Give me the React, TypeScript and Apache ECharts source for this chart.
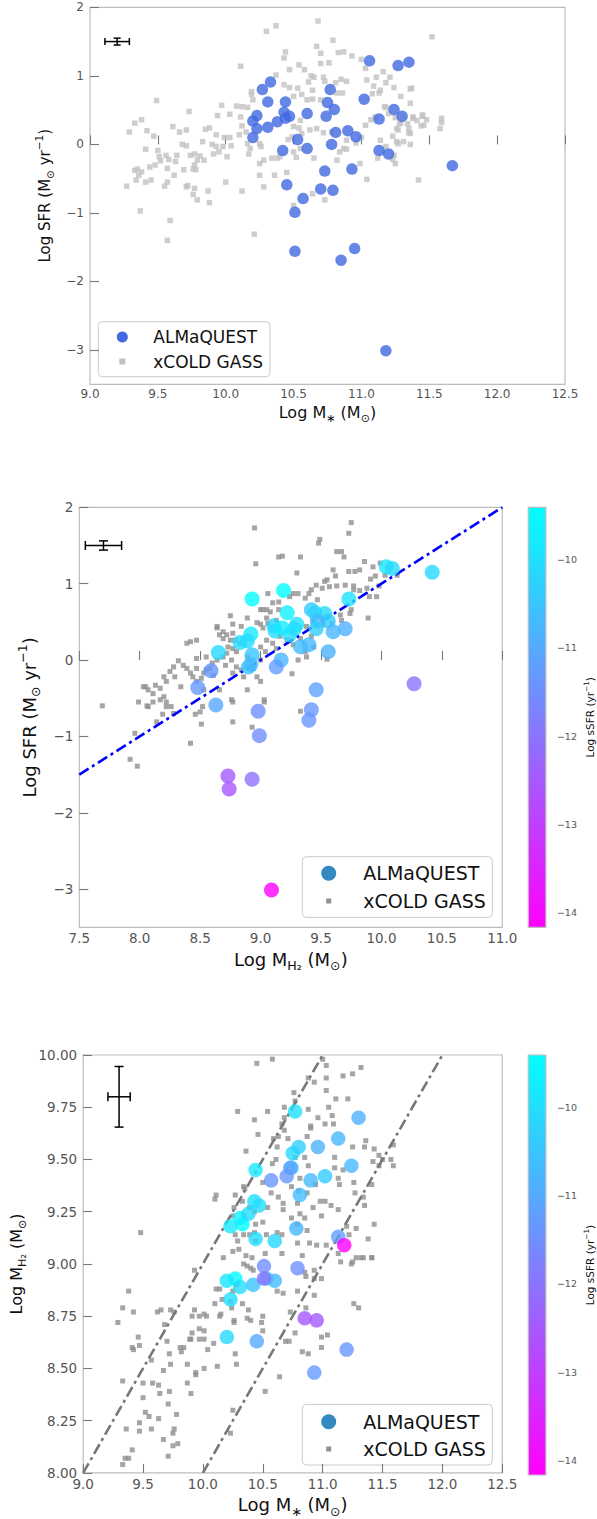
import React, { useEffect, useRef } from 'react';
import * as echarts from 'echarts';

const FONT = "'DejaVu Sans', Verdana, sans-serif";

// ALMaQUEST galaxies: stellar mass, SFR, molecular gas mass (log units)
const almaMstar = [11.06, 11.27, 11.35, 10.33, 10.27, 10.77, 10.31, 10.44, 10.75, 10.80, 11.02, 11.24, 11.30, 11.13, 10.60, 10.74, 10.43, 10.47, 10.44, 10.38, 10.23, 10.20, 10.23, 10.31, 10.20, 10.81, 10.90, 10.96, 10.53, 10.78, 10.42, 10.60, 11.13, 11.20, 11.67, 10.73, 10.93, 10.45, 10.70, 10.79, 10.57, 10.51, 10.51, 10.95, 10.85, 11.18];
const almaSFR = [1.22, 1.15, 1.20, 0.91, 0.80, 0.80, 0.62, 0.62, 0.61, 0.51, 0.66, 0.51, 0.41, 0.37, 0.45, 0.41, 0.47, 0.41, 0.38, 0.33, 0.42, 0.34, 0.23, 0.25, 0.10, 0.175, 0.20, 0.11, 0.07, 0.00, -0.09, -0.06, -0.09, -0.14, -0.31, -0.39, -0.36, -0.59, -0.65, -0.67, -0.79, -0.99, -1.56, -1.52, -1.69, -3.01];
const almaMH2 = [10.04, 10.42, 10.09, 9.19, 8.93, 9.73, 9.22, 9.45, 9.53, 9.56, 9.42, 9.47, 9.70, 9.60, 9.11, 9.46, 9.30, 9.28, 9.12, 9.24, 9.18, 8.92, 8.83, 8.89, 8.65, 9.33, 9.40, 9.56, 8.93, 9.17, 8.90, 8.92, 9.13, 8.59, 10.27, 9.46, 8.48, 8.63, 9.42, 8.98, 9.40, 8.99, 8.93, 8.73, 8.74, 9.09];

// xCOLD GASS: [log M*, log SFR]
const xcgMstarSFR = [
  [10.30,1.65],[10.37,1.73],[10.68,1.80],[10.79,1.52],[11.52,1.57],[10.11,1.14],[10.44,1.35],[10.43,1.26],[10.67,1.43],[10.70,1.33],[10.83,1.34],[10.87,1.35],[10.93,1.29],[11.00,1.24],[10.54,1.16],[10.47,1.09],[10.70,1.18],[10.76,1.19],[10.58,1.09],[10.37,1.01],[10.43,0.87],[10.47,0.83],[10.53,0.82],[10.63,1.00],[10.65,0.98],[10.61,0.91],[10.72,0.98],[10.73,0.92],[10.81,0.90],[10.85,0.95],[10.89,0.92],[11.03,1.11],[11.04,0.94],[11.09,0.85],[11.11,0.98],[11.16,1.06],[11.21,0.98],[11.24,0.83],[11.36,0.81],[11.29,0.70],[11.36,0.60],[11.08,0.74],[11.13,0.75],[10.50,0.70],[10.64,0.79],[10.64,0.66],[10.70,0.65],[10.60,0.65],[10.56,0.73],[10.82,0.75],[10.86,0.75],[10.19,0.73],[10.19,0.77],[10.20,0.65],[10.12,0.55],[10.16,0.54],[10.08,0.56],[9.97,0.57],[9.94,0.42],[10.03,0.44],[10.11,0.40],[10.12,0.27],[10.15,0.18],[10.10,0.14],[9.99,0.10],[10.03,0.10],[9.93,0.14],[9.88,0.24],[9.85,0.22],[9.83,0.04],[9.90,0.00],[9.93,-0.03],[9.95,-0.11],[9.91,-0.14],[10.01,-0.18],[9.98,-0.03],[10.04,-0.02],[10.16,0.01],[10.18,-0.06],[10.17,-0.14],[10.25,0.01],[10.26,-0.03],[10.25,-0.28],[10.28,-0.23],[10.34,-0.20],[10.38,-0.20],[10.46,0.07],[10.49,0.11],[10.50,0.26],[10.54,0.24],[10.55,0.35],[10.56,0.16],[10.62,0.21],[10.67,0.23],[10.72,0.17],[10.78,0.18],[10.89,0.06],[10.96,0.02],[11.00,0.10],[11.03,0.28],[11.07,0.36],[11.10,0.40],[11.17,0.55],[11.20,0.45],[11.25,0.39],[11.26,0.23],[11.28,0.30],[11.34,0.30],[11.36,0.16],[11.36,0.00],[11.26,0.04],[11.14,0.06],[11.18,-0.03],[11.24,-0.16],[11.25,-0.28],[11.12,-0.20],[10.99,-0.28],[10.84,-0.11],[10.89,-0.07],[10.50,-0.11],[10.55,-0.06],[10.45,-0.41],[10.52,-0.19],[10.65,-0.20],[10.82,-0.23],[10.87,-0.06],[11.04,-0.51],[11.42,-0.52],[11.38,0.40],[11.45,0.41],[11.48,0.36],[11.46,0.28],[9.73,0.48],[9.49,0.64],[9.38,0.36],[9.33,0.31],[9.29,0.18],[9.42,0.20],[9.47,0.12],[9.41,-0.07],[9.50,-0.09],[9.51,-0.18],[9.52,-0.24],[9.56,-0.16],[9.58,-0.22],[9.57,-0.35],[9.48,-0.30],[9.44,-0.33],[9.45,-0.52],[9.41,-0.55],[9.38,-0.40],[9.35,-0.36],[9.33,-0.38],[9.36,-0.45],[9.34,-0.52],[9.27,-0.61],[9.64,-0.16],[9.63,-0.25],[9.62,-0.45],[9.68,0.00],[9.71,-0.02],[9.69,-0.37],[9.74,-0.16],[9.77,-0.14],[9.79,-0.23],[9.77,-0.30],[9.76,-0.36],[9.81,-0.17],[9.84,-0.23],[9.61,0.26],[9.66,0.18],[9.71,0.21],[9.78,-0.37],[9.72,-0.60],[9.77,-0.64],[9.55,-0.61],[9.57,-0.55],[9.87,-0.68],[10.00,-0.55],[10.12,-0.68],[10.28,-0.62],[10.25,-0.45],[10.36,-0.45],[10.40,-0.18],
  [9.71,-0.62],[9.76,-0.73],[9.79,-0.81],[9.88,-0.85],[9.37,-0.97],[9.59,-1.11],[9.57,-1.40],[10.21,-1.31],[10.64,-0.72],[10.73,-0.81],[10.50,-0.89],
  [11.18,0.90],[11.37,0.82],[11.18,0.54],[11.29,0.31],[11.27,0.21],[11.35,0.23],[11.35,0.17],[11.38,0.38],[11.41,0.35],[11.45,0.43],[11.44,0.27],[11.59,0.38],[11.59,0.32],[11.58,0.23],[11.23,0.12],[11.27,0.01],[11.31,0.04],[11.23,-0.22],[11.14,0.79]
];

// xCOLD GASS: [log MH2, log SFR]
const xcgMH2SFR = [
  [8.95,1.73],[8.96,1.26],[9.75,1.80],[9.73,1.66],[9.48,1.53],[9.49,1.58],[9.15,1.35],[9.18,1.36],[9.33,1.35],[9.30,1.14],[9.63,1.42],[9.67,1.42],[9.69,1.35],[9.86,1.29],[9.82,1.18],[9.73,1.16],[9.78,1.16],[9.60,1.18],[9.62,1.10],[9.93,1.22],[9.99,1.27],[10.03,1.11],[10.13,1.11],[9.91,1.06],[9.95,1.10],[9.98,0.97],[9.53,1.03],[9.55,1.05],[9.46,0.98],[9.51,0.94],[9.57,0.96],[9.63,0.97],[9.70,0.98],[9.77,0.97],[9.77,0.92],[9.82,0.91],[9.90,0.83],[9.96,0.83],[9.88,0.94],[9.06,0.87],[9.10,0.75],[9.15,0.76],[9.24,0.83],[9.27,0.87],[9.31,0.87],[9.37,0.81],[9.42,0.92],[9.47,0.79],[9.40,0.87],[9.00,0.66],[9.02,0.66],[9.05,0.66],[9.15,0.66],[9.08,0.63],[9.13,0.52],[9.05,0.55],[8.97,0.49],[9.00,0.47],[9.02,0.42],[9.06,0.48],[8.89,0.55],[8.84,0.44],[8.77,0.47],[8.75,0.58],[8.69,0.37],[8.72,0.33],[8.77,0.35],[8.64,0.42],[8.66,0.33],[8.69,0.28],[8.75,0.26],[8.79,0.26],[8.73,0.17],[8.77,0.15],[8.80,0.11],[8.72,0.09],[8.69,0.04],[8.76,0.00],[8.71,-0.07],[8.80,-0.09],[8.84,-0.13],[8.77,-0.17],[8.94,-0.11],[9.00,0.00],[9.04,0.11],[9.00,0.17],[9.05,0.26],[9.10,0.22],[9.13,0.15],[9.16,0.31],[9.22,0.26],[9.27,0.20],[9.33,0.28],[9.38,0.44],[9.44,0.52],[9.52,0.46],[9.59,0.48],[9.66,0.59],[9.67,0.52],[9.74,0.61],[9.75,0.66],[9.89,0.55],[9.37,0.11],[9.38,0.04],[9.31,0.00],[9.26,-0.18],[9.42,0.31],[9.55,0.01],[9.44,0.17],[8.83,0.22],[8.89,0.04],[8.89,-0.39],[9.00,-0.28],[9.03,-0.52],[8.86,-0.22],[8.97,-0.22],[8.64,0.00],[8.60,-0.04],[8.58,-0.11],[8.55,-0.13],[8.61,-0.20],[8.53,-0.17],[8.51,-0.24],[8.47,-0.11],[8.44,-0.22],[8.42,-0.17],[8.47,-0.28],[8.39,-0.11],[8.36,-0.07],[8.32,-0.01],[8.28,-0.09],[8.29,-0.22],[8.25,-0.15],[8.22,-0.28],[8.20,-0.22],[8.17,-0.37],[8.13,-0.33],[8.11,-0.44],[8.07,-0.39],[8.03,-0.35],[8.05,-0.35],[7.99,-0.55],[8.07,-0.61],[8.17,-0.52],[8.20,-0.48],[8.22,-0.61],[8.28,-0.70],[8.39,0.22],[8.42,0.24],[8.47,0.02],[8.55,0.04],[8.47,0.26],[8.64,0.44],[7.69,-0.60],[8.34,-0.35],[8.53,-0.39],[8.66,-0.39],[8.76,-0.52],
  [8.06,-0.60],[8.11,-0.55],[8.22,-0.55],[8.26,-0.61],[8.19,-0.71],[8.14,-0.81],[8.46,-0.71],[8.50,-0.68],[8.52,-0.61],[8.51,-0.84],[7.96,-0.96],[7.92,-1.30],[7.98,-1.39],[8.42,-1.09],[8.77,-0.55],[8.77,-0.81],[8.93,-0.88],[9.03,-0.55],[9.33,-0.67]
];

// xCOLD GASS: [log M*, log MH2]
const xcgMstarMH2 = [
  [10.45,9.96],[10.58,9.98],[11.00,9.98],[11.03,9.95],[10.93,9.87],[10.88,9.89],[11.03,9.89],[11.03,9.83],[11.17,9.90],[11.25,9.91],[11.32,9.94],[11.21,9.79],[11.11,9.79],[10.76,9.82],[10.77,9.78],[10.68,9.75],[10.88,9.74],[11.05,9.75],[10.96,9.70],[11.02,9.67],[11.09,9.67],[10.90,9.66],[11.08,9.71],[10.54,9.73],[10.29,9.73],[10.43,9.69],[10.68,9.70],[10.66,9.67],[10.68,9.64],[10.63,9.61],[10.71,9.60],[10.59,9.60],[10.46,9.62],[10.87,9.61],[10.90,9.65],[11.36,9.59],[11.35,9.56],[11.25,9.56],[11.43,9.55],[11.59,9.57],[11.47,9.52],[11.50,9.50],[11.57,9.50],[11.59,9.47],[11.42,9.49],[11.47,9.47],[10.36,9.54],[10.62,9.56],[10.61,9.50],[10.85,9.51],[10.77,9.51],[10.58,9.48],[10.88,9.47],[11.10,9.51],[11.17,9.45],[11.10,9.46],[10.81,9.41],[10.80,9.35],[10.74,9.37],[10.87,9.34],[10.94,9.38],[11.13,9.41],[11.14,9.38],[11.26,9.39],[11.27,9.34],[11.34,9.32],[11.41,9.38],[11.35,9.28],[10.98,9.30],[11.02,9.30],[11.07,9.28],[11.13,9.26],[10.92,9.27],[10.99,9.23],[10.34,9.37],[10.50,9.39],[10.57,9.34],[10.63,9.32],[10.67,9.29],[10.67,9.26],[10.79,9.29],[10.81,9.24],[10.85,9.22],[10.79,9.19],[10.74,9.22],[10.10,9.31],[10.11,9.33],[10.35,9.36],[10.27,9.33],[10.33,9.30],[10.26,9.27],[10.39,9.27],[10.54,9.27],[10.43,9.25],[10.25,9.23],[10.44,9.19],[10.50,9.20],[10.43,9.15],[10.27,9.14],[10.39,9.14],[10.34,9.14],[10.29,9.11],[10.44,9.11],[10.53,9.14],[10.66,9.14],[10.62,9.15],[10.79,9.10],[10.87,9.16],[10.89,9.10],[10.95,9.09],[11.03,9.09],[11.13,9.05],[11.22,9.14],[11.20,9.18],[11.28,9.17],[11.38,9.12],[11.43,9.19],[9.48,9.15],[10.17,9.03],[10.25,9.06],[10.30,9.07],[10.36,9.04],[10.41,9.03],[10.52,9.05],[10.66,9.05],[10.83,9.04],[11.24,9.00],[11.28,9.03],[11.34,9.03],[11.41,9.03],
  [9.29,8.72],[9.33,8.79],[9.38,8.87],[9.42,8.77],[9.46,8.65],[9.47,8.61],[9.41,8.60],[9.42,8.59],[9.57,8.54],[9.33,8.44],[9.50,8.36],[9.52,8.29],[9.55,8.27],[9.57,8.21],[9.47,8.24],[9.47,8.20],[9.36,8.21],[9.41,8.11],[9.35,8.07],[9.38,8.07],[9.33,8.04],[9.50,8.43],[9.58,8.43],[9.63,8.42],[9.64,8.38],[9.63,8.26],[9.67,8.16],[9.71,8.33],[9.72,8.39],[9.71,8.08],[9.75,8.19],[9.76,8.21],[9.75,8.13],[9.78,8.28],[9.79,8.14],[9.62,8.77],[9.65,8.78],[9.68,8.71],[9.73,8.78],[9.76,8.77],[9.72,8.57],[9.73,8.52],[9.70,8.63],[9.67,8.49],[9.81,8.60],[9.82,8.58],[9.84,8.60],[9.87,8.52],[9.87,8.43],[9.90,8.38],[9.94,8.48],[9.94,8.47],[9.91,8.67],[9.90,8.64],[9.89,8.64],[9.93,8.78],[9.91,8.75],[9.97,8.69],[10.01,8.68],[9.97,8.75],[10.01,8.76],[10.03,8.75],[9.97,8.64],[10.01,8.64],[10.04,8.59],[10.01,8.50],[10.12,8.51],[10.09,8.62],[10.14,8.75],[10.15,8.76],[10.16,8.83],[10.10,8.81],[10.11,8.88],[10.14,8.88],[9.93,8.97],[10.28,8.90],[10.25,8.87],[10.23,8.82],[10.24,8.79],[10.26,8.73],[10.26,8.72],[10.27,8.57],[10.28,8.52],[10.25,8.30],[10.23,8.19],[10.34,9.00],[10.37,8.99],[10.40,8.98],[10.42,8.97],[10.33,8.81],[10.38,8.78],[10.37,8.74],[10.40,8.73],[10.50,8.75],[10.49,8.72],[10.50,8.68],[10.52,8.39],[10.64,8.46],[10.62,8.87],[10.67,8.86],[10.73,8.77],[10.69,8.63],[10.72,8.63],[10.77,8.67],[10.79,8.87],[10.85,8.96],[10.86,8.79],[10.86,8.94],[10.83,8.58],[10.88,8.57],[10.93,8.97],[10.93,8.85],[10.93,8.93],[10.99,8.93],[10.99,8.65],[10.99,8.60],[11.04,8.66],[11.15,9.01],[11.25,9.01],[11.32,9.03],[11.26,8.81],[11.30,8.79],[11.41,9.03]
];

// axis ticks and ranges
const sfrTicks = [-3, -2, -1, 0, 1, 2];
const ssfrTicks = [-14, -13, -12, -11, -10];
const ssfrRange = [-14.165, -9.41];

// reference lines
const fitMH2 = [7.5, 11.0];
const fitSFR = [-1.5, 2.0];
const bandUpperMstar = [9.0, 11.0];
const bandUpperMH2 = [8.0, 10.0];
const bandLowerMstar = [10.0, 12.0];
const bandLowerMH2 = [8.0, 10.0];

// typical error bars: [x, y, xerr, yerr]
const err1 = [9.2, 1.5, 0.09, 0.05];
const err2 = [7.7, 1.5, 0.15, 0.06];
const err3 = [9.3, 9.8, 0.093, 0.145];

const minusFmt = (d: number) => (v: number) => (v < 0 ? '\u2212' : '') + Math.abs(v).toFixed(d);

const nameStyle = (size: number) => ({
  fontFamily: FONT,
  fontSize: size,
  color: '#111',
  rich: {
    a: { fontFamily: FONT, fontSize: size, color: '#111', lineHeight: size * 1.45 },
    sub: { fontFamily: FONT, fontSize: size * 0.7, color: '#111', verticalAlign: 'bottom', lineHeight: size * 0.85 },
    sup: { fontFamily: FONT, fontSize: size * 0.7, color: '#111', verticalAlign: 'top', lineHeight: size * 0.85 },
  },
});

const errRender = (cap: number) => (params: any, api: any) => {
  const x = api.value(0), y = api.value(1), ex = api.value(2), ey = api.value(3);
  const l = api.coord([x - ex, y]);
  const r = api.coord([x + ex, y]);
  const t = api.coord([x, y + ey]);
  const b = api.coord([x, y - ey]);
  const style = { stroke: '#000', lineWidth: 1.5 };
  const ln = (x1: number, y1: number, x2: number, y2: number) => ({ type: 'line', shape: { x1, y1, x2, y2 }, style });
  return {
    type: 'group',
    children: [
      ln(l[0], l[1], r[0], r[1]),
      ln(l[0], l[1] - cap, l[0], l[1] + cap),
      ln(r[0], r[1] - cap, r[0], r[1] + cap),
      ln(t[0], t[1], b[0], b[1]),
      ln(t[0] - cap, t[1], t[0] + cap, t[1]),
      ln(b[0] - cap, b[1], b[0] + cap, b[1]),
    ],
  };
};

const tickStyle = { show: true, inside: true, length: 9, lineStyle: { color: '#777', width: 1.1 } };

function mainX(gridIndex: number, min: number, max: number, name: string, nameSize: number, nameGap: number, labelSize: number) {
  return {
    type: 'value', gridIndex, min, max, interval: 0.5,
    axisLine: { show: false },
    axisTick: tickStyle,
    splitLine: { show: false },
    axisLabel: { color: '#555', fontFamily: FONT, fontSize: labelSize, margin: 4, formatter: minusFmt(1) },
    name, nameLocation: 'middle', nameGap, nameTextStyle: nameStyle(nameSize),
  };
}

function legendGraphic(x: number, y: number, w: number, h: number, circleX: number, r: number, circleColor: string, sq: number, sqColor: string, textX: number, y1: number, y2: number, fs: number) {
  return {
    type: 'group', z: 100,
    children: [
      { type: 'rect', shape: { x, y, width: w, height: h, r: 4 }, style: { fill: 'rgba(255,255,255,0.85)', stroke: '#cccccc', lineWidth: 1 } },
      { type: 'circle', shape: { cx: circleX, cy: y1, r }, style: { fill: circleColor } },
      { type: 'rect', shape: { x: circleX - sq / 2, y: y2 - sq / 2, width: sq, height: sq }, style: { fill: sqColor } },
      { type: 'text', x: textX, y: y1, style: { text: 'ALMaQUEST', fill: '#111', fontFamily: FONT, fontSize: fs, verticalAlign: 'middle' } },
      { type: 'text', x: textX, y: y2, style: { text: 'xCOLD GASS', fill: '#111', fontFamily: FONT, fontSize: fs, verticalAlign: 'middle' } },
    ],
  };
}

export default function App() {
  const ref = useRef<HTMLDivElement>(null);
  useEffect(() => {
    if (!ref.current) return;
    const chart = echarts.init(ref.current, undefined, { renderer: 'svg' });
    const ssfr = almaSFR.map((s, i) => s - almaMstar[i]);
    const alma1 = almaMstar.map((m, i) => [m, almaSFR[i]]);
    const alma2 = almaMH2.map((m, i) => [m, almaSFR[i], ssfr[i]]);
    const alma3 = almaMstar.map((m, i) => [m, almaMH2[i], ssfr[i]]);
    const gridBase = { show: true, borderColor: '#bdbdbd', borderWidth: 1.2, backgroundColor: 'transparent', containLabel: false };
    const cbarGradient = new echarts.graphic.LinearGradient(0, 0, 0, 1, [
      { offset: 0, color: '#00ffff' },
      { offset: 1, color: '#ff00ff' },
    ]);
    const cbarY = (gridIndex: number) => ({
      type: 'value', gridIndex, min: ssfrRange[0], max: ssfrRange[1], position: 'right',
      axisLine: { show: false },
      axisTick: { show: false, customValues: ssfrTicks },
      splitLine: { show: false },
      axisLabel: { customValues: ssfrTicks, color: '#555', fontFamily: FONT, fontSize: 9.5, margin: 11, formatter: minusFmt(0) },
      name: '{a|Log sSFR (yr}{sup|\u22121}{a|)}', nameLocation: 'middle', nameRotate: 90, nameGap: 37, nameTextStyle: nameStyle(10.5),
    });
    const option: any = {
      animation: false,
      backgroundColor: '#fff',
      grid: [
        { ...gridBase, left: 90, top: 7.3, width: 475, height: 377 },
        { ...gridBase, left: 79.3, top: 507.3, width: 423, height: 420 },
        { ...gridBase, left: 528.3, top: 507.3, width: 21.7, height: 420, backgroundColor: cbarGradient },
        { ...gridBase, left: 79.3, top: 1055, width: 423, height: 420 },
        { ...gridBase, left: 528.3, top: 1055, width: 21.7, height: 420, backgroundColor: cbarGradient },
      ],
      xAxis: [
        mainX(0, 9, 12.5, '{a|Log M}{sub|\u2217}{a| (M}{sub|\u2299}{a|)}', 16, 17, 12),
        mainX(1, 7.5, 11, '{a|Log M}{sub|H\u2082}{a| (M}{sub|\u2299}{a|)}', 18, 19, 13.5),
        { type: 'value', gridIndex: 2, min: 0, max: 1, show: false },
        mainX(3, 9, 12.5, '{a|Log M}{sub|\u2217}{a| (M}{sub|\u2299}{a|)}', 18, 19, 13.5),
        { type: 'value', gridIndex: 4, min: 0, max: 1, show: false },
      ],
      yAxis: [
        {
          type: 'value', gridIndex: 0, min: -3.5, max: 2,
          axisLine: { show: false }, splitLine: { show: false },
          axisTick: { ...tickStyle, customValues: sfrTicks },
          axisLabel: { customValues: sfrTicks, color: '#555', fontFamily: FONT, fontSize: 12, margin: 6, formatter: minusFmt(0) },
          name: '{a|Log SFR (M}{sub|\u2299}{a| yr}{sup|\u22121}{a|)}', nameLocation: 'middle', nameGap: 27, nameTextStyle: nameStyle(15),
        },
        {
          type: 'value', gridIndex: 1, min: -3.5, max: 2,
          axisLine: { show: false }, splitLine: { show: false },
          axisTick: { ...tickStyle, customValues: sfrTicks },
          axisLabel: { customValues: sfrTicks, color: '#555', fontFamily: FONT, fontSize: 13.5, margin: 6, formatter: minusFmt(0) },
          name: '{a|Log SFR (M}{sub|\u2299}{a| yr}{sup|\u22121}{a|)}', nameLocation: 'middle', nameGap: 28, nameTextStyle: nameStyle(18),
        },
        cbarY(2),
        {
          type: 'value', gridIndex: 3, min: 8, max: 10, interval: 0.25,
          axisLine: { show: false }, splitLine: { show: false },
          axisTick: tickStyle,
          axisLabel: { color: '#555', fontFamily: FONT, fontSize: 13.5, margin: 6, formatter: minusFmt(2) },
          name: '{a|Log M}{sub|H\u2082}{a| (M}{sub|\u2299}{a|)}', nameLocation: 'middle', nameGap: 50, nameTextStyle: nameStyle(16),
        },
        cbarY(4),
      ],
      visualMap: {
        type: 'continuous', show: false, min: ssfrRange[0], max: ssfrRange[1], dimension: 2,
        seriesIndex: [5, 10], inRange: { color: ['#ff00ff', '#00ffff'] },
      },
      series: [
        { type: 'scatter', xAxisIndex: 0, yAxisIndex: 0, data: xcgMstarSFR, symbol: 'rect', symbolSize: 5.5, itemStyle: { color: '#c2c2c2' }, z: 2 },
        { type: 'scatter', xAxisIndex: 0, yAxisIndex: 0, data: alma1, symbol: 'circle', symbolSize: 11.5, itemStyle: { color: '#4169e1' }, z: 3 },
        { type: 'custom', xAxisIndex: 0, yAxisIndex: 0, data: [err1], renderItem: errRender(3.5), z: 4 },
        { type: 'scatter', xAxisIndex: 1, yAxisIndex: 1, data: xcgMH2SFR, symbol: 'rect', symbolSize: 5, itemStyle: { color: '#8f8f8f' }, z: 2 },
        { type: 'line', xAxisIndex: 1, yAxisIndex: 1, data: fitMH2.map((x, i) => [x, fitSFR[i]]), symbol: 'none', lineStyle: { color: '#0000ff', width: 2.6, type: [11, 4, 3, 4] }, z: 3 },
        { type: 'scatter', xAxisIndex: 1, yAxisIndex: 1, data: alma2, symbol: 'circle', symbolSize: 15, z: 4 },
        { type: 'custom', xAxisIndex: 1, yAxisIndex: 1, data: [err2], renderItem: errRender(4.5), z: 5 },
        { type: 'scatter', xAxisIndex: 3, yAxisIndex: 3, data: xcgMstarMH2, symbol: 'rect', symbolSize: 5, itemStyle: { color: '#8f8f8f' }, z: 2 },
        { type: 'line', xAxisIndex: 3, yAxisIndex: 3, data: bandUpperMstar.map((x, i) => [x, bandUpperMH2[i]]), symbol: 'none', lineStyle: { color: '#777777', width: 2.6, type: [11, 4, 3, 4] }, z: 3 },
        { type: 'line', xAxisIndex: 3, yAxisIndex: 3, data: bandLowerMstar.map((x, i) => [x, bandLowerMH2[i]]), symbol: 'none', lineStyle: { color: '#777777', width: 2.6, type: [11, 4, 3, 4] }, z: 3 },
        { type: 'scatter', xAxisIndex: 3, yAxisIndex: 3, data: alma3, symbol: 'circle', symbolSize: 14.5, z: 4 },
        { type: 'custom', xAxisIndex: 3, yAxisIndex: 3, data: [err3], renderItem: errRender(4.5), z: 5 },
      ],
      graphic: [
        legendGraphic(98.3, 321.7, 171.7, 55, 122.3, 5.5, '#4169e1', 6, '#c2c2c2', 153.3, 337, 361.5, 17),
        legendGraphic(302.3, 856.7, 190, 60.7, 328.7, 7.5, '#338ac0', 5, '#8f8f8f', 363.3, 873.3, 901, 19),
        legendGraphic(302.3, 1404.3, 190, 60.7, 328.7, 7.5, '#338ac0', 5, '#8f8f8f', 363.3, 1421.7, 1449, 19),
      ],
    };
    chart.setOption(option);
    return () => chart.dispose();
  }, []);
  return <div ref={ref} style={{ position: 'absolute', left: 0, top: 0, width: 597, height: 1519, background: '#fff' }} />;
}
